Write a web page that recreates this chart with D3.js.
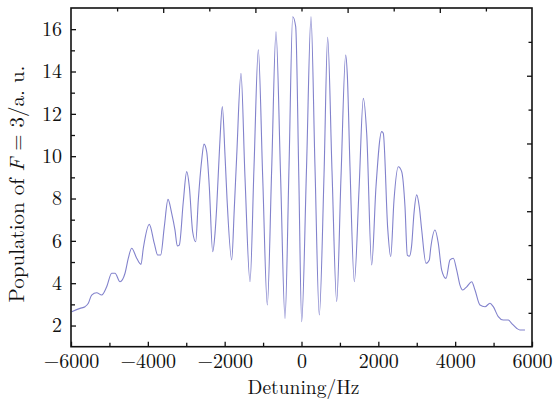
<!DOCTYPE html>
<html>
<head>
<meta charset="utf-8">
<script src="https://cdn.jsdelivr.net/npm/d3@7"></script>
<style>
  html, body { margin: 0; padding: 0; background: #fff; }
  svg { display: block; }
  text { font-family: "Latin Modern Roman", "CMU Serif", "Liberation Serif", serif; fill: #111; }
</style>
</head>
<body>
<svg id="chart" width="555" height="400"></svg>
<script>
// Detuning (Hz)
const detuning = [
  -5981, -5765, -5635, -5549, -5462, -5332, -5201, -5071, -4941, -4854,
  -4724, -4594, -4508, -4421, -4290, -4178, -4118, -3962, -3832, -3744,
  -3666, -3571, -3475, -3379, -3293, -3233, -3181, -3077, -2988, -2920,
  -2833, -2754, -2686, -2598, -2538, -2468, -2400, -2312, -2251, -2207,
  -2130, -2061, -1990, -1939, -1817, -1750, -1687, -1575, -1471, -1340,
  -1236, -1124, -1010, -890, -776, -664, -545, -429, -325, -229,
  -151, -70, 5, 130, 247, 351, 463, 586, 681, 794,
  916, 1028, 1150, 1193, 1262, 1375, 1497, 1609, 1697, 1827,
  1939, 2087, 2129, 2244, 2322, 2408, 2520, 2608, 2694, 2754,
  2810, 2868, 2928, 2998, 3066, 3129, 3241, 3327, 3363, 3475,
  3561, 3649, 3761, 3865, 3951, 4040, 4125, 4196, 4300, 4430,
  4516, 4646, 4776, 4906, 4992, 5122, 5252, 5383, 5470, 5600,
  5687, 5817
];
// Population of F = 3 (a. u.)
const population = [
  2.65, 2.81, 2.89, 3.05, 3.44, 3.55, 3.44, 3.83, 4.47, 4.47,
  4.07, 4.47, 5.18, 5.65, 5.18, 4.89, 5.65, 6.78, 5.88, 5.33,
  5.33, 6.67, 7.96, 7.30, 6.51, 5.76, 5.80, 7.85, 9.27, 8.56,
  6.43, 5.96, 7.93, 9.82, 10.57, 10.21, 8.56, 5.49, 6.36, 7.61,
  10.5, 12.34, 10.0, 8.0, 5.10, 7.5, 10.0, 13.91, 9.0, 4.07,
  9.5, 15.02, 9.0, 2.97, 9.4, 15.88, 9.1, 2.34, 9.5, 16.59,
  16.12, 9.0, 2.18, 9.4, 16.59, 9.5, 2.50, 9.1, 15.62, 9.3,
  3.13, 9.0, 14.78, 13.83, 9.5, 4.07, 8.4, 12.73, 11.08, 4.86,
  8.56, 11.16, 11.08, 6.59, 5.25, 7.93, 9.50, 9.27, 7.61, 5.33,
  5.28, 5.80, 7.30, 8.17, 7.61, 6.51, 4.94, 5.10, 5.65, 6.51,
  5.88, 4.62, 4.23, 5.10, 5.18, 4.62, 3.91, 3.68, 3.83, 4.07,
  3.68, 2.97, 2.89, 3.05, 2.89, 2.42, 2.26, 2.26, 2.10, 1.87,
  1.79, 1.79
];

const xMajorTicks = [-6000, -4000, -2000, 0, 2000, 4000, 6000];
const xMinorTicks = [-5000, -3000, -1000, 1000, 3000, 5000];
const yMajorTicks = [2, 4, 6, 8, 10, 12, 14, 16];
const yMinorTicks = [3, 5, 7, 9, 11, 13, 15];
const topMajorTicks = [2, 4, 6, 8];
const topMinorTicks = [1, 3, 5, 7, 9];
const rightMajorTicks = [2, 4, 6, 8];
const rightMinorTicks = [1, 3, 5, 7, 9];

const xLabel = "Detuning/Hz";

const W = 555, H = 400;
const m = { left: 71, right: 23, top: 8, bottom: 53.3 };
const iw = W - m.left - m.right, ih = H - m.top - m.bottom;

const svg = d3.select("#chart");
const g = svg.append("g").attr("transform", `translate(${m.left},${m.top})`);

const x = d3.scaleLinear().domain([-6000, 6000]).range([0, iw]);
const y = d3.scaleLinear().domain([1, 17]).range([ih, 0]);
const xTop = d3.scaleLinear().domain([0, 10]).range([0, iw]);
const yRight = d3.scaleLinear().domain([0, 10]).range([ih, 0]);

const fmt = d => (d < 0 ? "\u2212" + Math.abs(d) : String(d));

// data line
const data = detuning.map((d, i) => ({ x: d, y: population[i] }));
const line = d3.line().x(d => x(d.x)).y(d => y(d.y)).curve(d3.curveMonotoneX);
g.append("path").datum(data)
  .attr("d", line)
  .attr("fill", "none")
  .attr("stroke", "#8282cc")
  .attr("stroke-width", 1.1)
  .attr("stroke-linejoin", "round");

function styleAxis(sel) {
  sel.select(".domain").remove();
  sel.selectAll(".tick line").attr("stroke", "#111").attr("stroke-width", 1.3);
  sel.selectAll(".tick text").attr("font-size", 20).attr("fill", "#111")
    .attr("font-family", '"Latin Modern Roman", "CMU Serif", "Liberation Serif", serif');
}

// bottom axis
g.append("g").attr("transform", `translate(0,${ih})`)
  .call(d3.axisBottom(x).tickValues(xMajorTicks).tickSize(-5).tickPadding(7).tickFormat(fmt))
  .call(styleAxis);
g.append("g").attr("transform", `translate(0,${ih})`)
  .call(d3.axisBottom(x).tickValues(xMinorTicks).tickSize(-4).tickFormat(""))
  .call(styleAxis);

// left axis
g.append("g")
  .call(d3.axisLeft(y).tickValues(yMajorTicks).tickSize(-5).tickPadding(9))
  .call(styleAxis);
g.append("g")
  .call(d3.axisLeft(y).tickValues(yMinorTicks).tickSize(-4).tickFormat(""))
  .call(styleAxis);

// top axis (independent ticks)
g.append("g")
  .call(d3.axisTop(xTop).tickValues(topMajorTicks).tickSize(-5).tickFormat(""))
  .call(styleAxis);
g.append("g")
  .call(d3.axisTop(xTop).tickValues(topMinorTicks).tickSize(-3.5).tickFormat(""))
  .call(styleAxis);

// right axis (independent ticks)
g.append("g").attr("transform", `translate(${iw},0)`)
  .call(d3.axisRight(yRight).tickValues(rightMajorTicks).tickSize(-5).tickFormat(""))
  .call(styleAxis);
g.append("g").attr("transform", `translate(${iw},0)`)
  .call(d3.axisRight(yRight).tickValues(rightMinorTicks).tickSize(-3.5).tickFormat(""))
  .call(styleAxis);

// frame
g.append("rect").attr("x", 0).attr("y", 0).attr("width", iw).attr("height", ih)
  .attr("fill", "none").attr("stroke", "#111").attr("stroke-width", 1.6);

// x label
svg.append("text")
  .attr("x", m.left + iw / 2 + 2).attr("y", 394)
  .attr("text-anchor", "middle").attr("font-size", 19.5)
  .text(xLabel);

// y label
const yl = svg.append("text")
  .attr("transform", `translate(24,184) rotate(-90)`)
  .attr("text-anchor", "middle").attr("font-size", 21);
yl.append("tspan").text("Population of ");
yl.append("tspan").attr("font-style", "italic").text("F");
yl.append("tspan").text(" = 3/a. u.");
</script>
</body>
</html>
